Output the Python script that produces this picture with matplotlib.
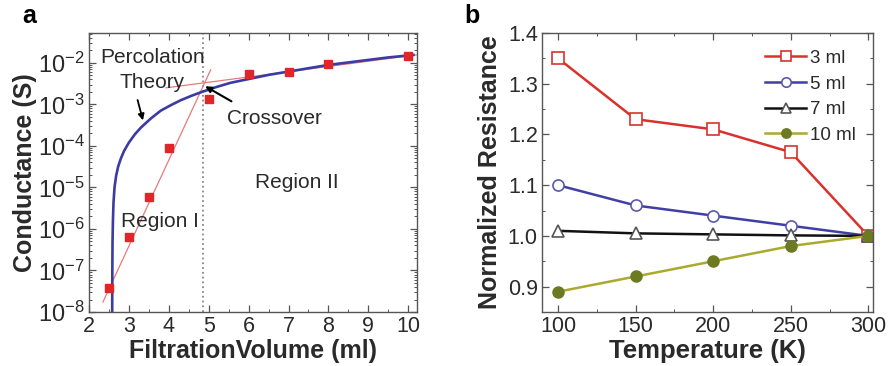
import matplotlib
matplotlib.use("Agg")
import matplotlib.pyplot as plt
from matplotlib.ticker import FixedLocator, MultipleLocator, LogLocator, NullFormatter

plt.rcParams['font.family'] = ['Liberation Sans', 'DejaVu Sans']
plt.rcParams['mathtext.default'] = 'regular'

# ---------------- Panel a data ----------------
vol_x = [2.5, 3, 3.5, 4, 5, 6, 7, 8, 10]
cond_y = [3.8e-8, 6.5e-7, 5.9e-6, 8.9e-5, 1.35e-3, 5.4e-3, 6.0e-3, 9.6e-3, 1.5e-2]
# percolation theory curve
theory_x = [2.58, 2.585, 2.59, 2.60, 2.615, 2.64, 2.68, 2.73, 2.80, 2.88, 3.0, 3.15, 3.3,
            3.55, 3.8, 4.05, 4.3, 4.55, 4.8, 5.2, 5.55, 6.05, 6.5, 7.0, 7.5, 8.0, 8.5, 9.0, 9.5, 10.13]
theory_logy = [-8.5, -7.0, -6.3, -5.8, -5.35, -5.0, -4.72, -4.5, -4.3, -4.12, -3.92, -3.72, -3.56,
               -3.34, -3.15, -3.02, -2.9, -2.8, -2.71, -2.58, -2.48, -2.38, -2.29, -2.21, -2.13,
               -2.05, -1.99, -1.93, -1.87, -1.81]
fit1_x = [2.35, 5.05]
fit1_y = [1.74e-8, 6.8e-3]
fit2_x = [3.93, 10.2]
fit2_y = [2.5e-3, 1.55e-2]
crossover_x = 4.85

# ---------------- Panel b data ----------------
temps = [100, 150, 200, 250, 300]
r3 = [1.35, 1.23, 1.21, 1.165, 1.0]
r5 = [1.10, 1.06, 1.04, 1.02, 1.0]
r7 = [1.01, 1.005, 1.003, 1.001, 1.0]
r10 = [0.89, 0.92, 0.95, 0.98, 1.0]
labels_b = ['3 ml', '5 ml', '7 ml', '10 ml']

fig = plt.figure(figsize=(8.89, 3.66), dpi=100)
axa = fig.add_axes([0.1001, 0.1475, 0.369, 0.7625])
axb = fig.add_axes([0.6097, 0.1475, 0.3723, 0.7625])

txtc = '#2a2a2a'
framec = '#555555'

# ---- Panel a ----
axa.axvline(crossover_x, color='#888888', ls=':', lw=1.3, zorder=1)
axa.plot(fit1_x, fit1_y, color='#e77a7a', lw=0.9, zorder=2)
axa.plot(fit2_x, fit2_y, color='#e77a7a', lw=0.9, zorder=2)
axa.plot(theory_x, [10 ** v for v in theory_logy], color='#3b3ba3', lw=1.9, zorder=3)
axa.plot(vol_x, cond_y, 's', color='#e02626', ms=6, mec='#e02626', zorder=4)
axa.set_yscale('log')
axa.set_xlim(2.0, 10.22)
axa.set_ylim(1e-8, 10 ** -1.28)
axa.xaxis.set_major_locator(MultipleLocator(1))
axa.xaxis.set_minor_locator(MultipleLocator(0.5))
ydec = [1e-8, 1e-7, 1e-6, 1e-5, 1e-4, 1e-3, 1e-2]
axa.yaxis.set_major_locator(FixedLocator(ydec))
axa.set_yticklabels([r'$10^{%d}$' % e for e in range(-8, -1)])
axa.yaxis.set_minor_locator(LogLocator(base=10, subs=range(2, 10), numticks=20))
axa.yaxis.set_minor_formatter(NullFormatter())
axa.tick_params(axis='y', which='major', labelsize=17)
axa.tick_params(axis='x', which='major', labelsize=15.5)
axa.set_xlabel('FiltrationVolume (ml)', fontsize=18, fontweight='bold', labelpad=1, color=txtc)
axa.set_ylabel('Conductance (S)', fontsize=18, fontweight='bold', labelpad=1, color=txtc)

axa.text(3.6, 10 ** -1.86, 'Percolation', ha='center', va='center', fontsize=15, color=txtc)
axa.text(3.57, 10 ** -2.48, 'Theory', ha='center', va='center', fontsize=15, color=txtc)
axa.text(6.65, 10 ** -3.33, 'Crossover', ha='center', va='center', fontsize=15, color=txtc)
axa.text(7.22, 10 ** -4.89, 'Region II', ha='center', va='center', fontsize=15, color=txtc)
axa.text(3.78, 10 ** -5.83, 'Region I', ha='center', va='center', fontsize=15, color=txtc)
axa.annotate('', xy=(3.37, 10 ** -3.45), xytext=(3.2, 10 ** -2.83),
             arrowprops=dict(arrowstyle='-|>', color='black', lw=1.3, mutation_scale=9))
axa.annotate('', xy=(4.85, 10 ** -2.53), xytext=(5.63, 10 ** -2.96),
             arrowprops=dict(arrowstyle='-|>', color='black', lw=1.5, mutation_scale=9))
fig.text(0.033, 0.955, 'a', fontsize=18, fontweight='bold', ha='center', va='center')

# ---- Panel b ----
axb.plot(temps, r3, '-s', color='#d8322c', lw=1.8, ms=8, mfc='white', mec='#d8322c', mew=1.2, label=labels_b[0])
axb.plot(temps, r5, '-o', color='#3f3fa5', lw=1.8, ms=8, mfc='white', mec='#5a5aaa', mew=1.2, label=labels_b[1])
axb.plot(temps, r7, '-^', color='#111111', lw=1.8, ms=8, mfc='white', mec='#555555', mew=1.2, label=labels_b[2])
axb.plot(temps, r10, '-o', color='#aaaa2e', lw=1.8, ms=8, mfc='#6c7a22', mec='#6c7a22', mew=1.0, label=labels_b[3])
axb.set_xlim(89.7, 303)
axb.set_ylim(0.85, 1.4)
axb.xaxis.set_major_locator(MultipleLocator(50))
axb.xaxis.set_minor_locator(MultipleLocator(25))
axb.yaxis.set_major_locator(MultipleLocator(0.1))
axb.yaxis.set_minor_locator(MultipleLocator(0.05))
axb.yaxis.set_major_formatter(matplotlib.ticker.FormatStrFormatter('%.1f'))
axb.tick_params(axis='both', which='major', labelsize=15.5)
axb.set_xlabel('Temperature (K)', fontsize=18.5, fontweight='bold', labelpad=1, color=txtc)
axb.set_ylabel('Normalized Resistance', fontsize=18, fontweight='bold', labelpad=4, color=txtc)
leg = axb.legend(loc='upper right', frameon=False, fontsize=13.5, handlelength=2.2,
                 handletextpad=0.2, labelspacing=0.45, borderaxespad=0.5, markerscale=0.85)
for t in leg.get_texts():
    t.set_color(txtc)
fig.text(0.531, 0.955, 'b', fontsize=18, fontweight='bold', ha='center', va='center')

for ax in (axa, axb):
    for s in ax.spines.values():
        s.set_color(framec)
        s.set_linewidth(1.0)
    ax.tick_params(which='both', direction='in', top=True, right=True, colors=framec,
                   labelcolor=txtc)
    ax.tick_params(which='major', length=5, width=0.9)
    ax.tick_params(which='minor', length=2.5, width=0.7)
    ax.tick_params(axis='both', which='major', pad=3)

fig.savefig('out.png', dpi=100)
